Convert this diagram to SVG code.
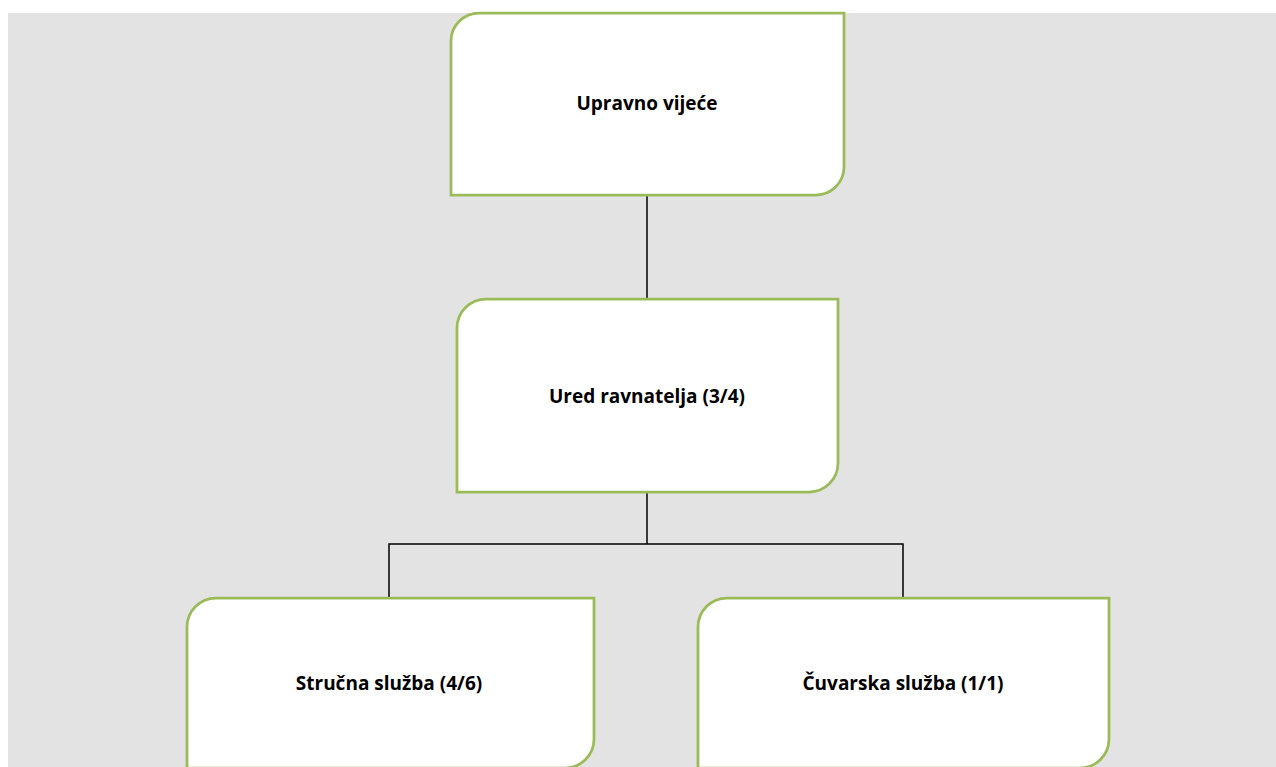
<svg xmlns="http://www.w3.org/2000/svg" width="1276" height="767" viewBox="0 0 1276 767">
<style>
.box{fill:#ffffff;stroke:#9bbb59;stroke-width:2.75}
.lbl{font-family:"Open Sans","Noto Sans","Liberation Sans",sans-serif;font-weight:bold;font-size:19px;fill:#000000;text-anchor:middle}
.conn{fill:none;stroke:#000000;stroke-width:1.5}
</style>
<rect x="0" y="0" width="1276" height="767" fill="#ffffff"/>
<rect x="8" y="13" width="1268" height="754" fill="#e3e3e3"/>
<g id="connectors">
<line class="conn" x1="647" y1="195" x2="647" y2="299"/>
<line class="conn" x1="647" y1="492" x2="647" y2="544"/>
<polyline class="conn" points="389,598 389,544 903,544 903,598"/>
</g>
<g id="node-upravno">
<path class="box" d="M479,13 H844 V167 A28,28 0 0 1 816,195 H451 V41 A28,28 0 0 1 479,13 Z"/>
<text class="lbl" x="647" y="110">Upravno vijeće</text>
</g>
<g id="node-ured">
<path class="box" d="M486,299 H838 V463 A29,29 0 0 1 809,492 H457 V328 A29,29 0 0 1 486,299 Z"/>
<text class="lbl" x="647" y="403">Ured ravnatelja (3/4)</text>
</g>
<g id="node-strucna">
<path class="box" d="M216,598 H594 V739 A29,29 0 0 1 565,768 H187 V627 A29,29 0 0 1 216,598 Z"/>
<text class="lbl" x="389" y="690">Stručna služba (4/6)</text>
</g>
<g id="node-cuvarska">
<path class="box" d="M727,598 H1109 V739 A29,29 0 0 1 1080,768 H698 V627 A29,29 0 0 1 727,598 Z"/>
<text class="lbl" x="903" y="690">Čuvarska služba (1/1)</text>
</g>
</svg>
